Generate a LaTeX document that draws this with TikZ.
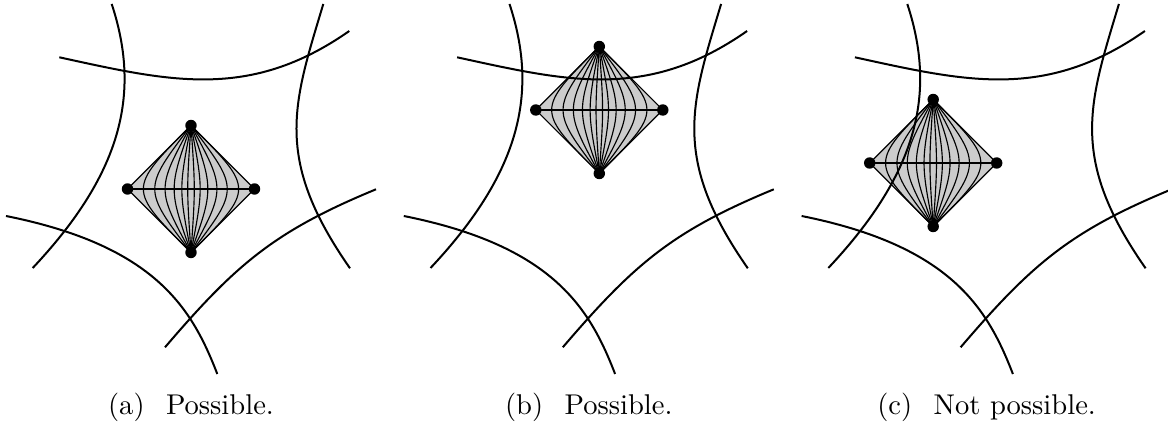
\documentclass[tikz,border=0pt]{standalone}
\begin{document}
\begin{tikzpicture}[x=0.35pt,y=-0.35pt,
  curve/.style={line width=0.7pt},
  meridian/.style={line width=0.4pt},
  outline/.style={line width=0.4pt},
  equator/.style={line width=0.7pt},
  dotfill/.style={fill=black}]
\useasboundingbox (0,0) rectangle (1168,428);
\foreach \ox/\dx/\dy/\lab/\txt in {0/191/189/a/Possible., 397.8/599.3/110/b/Possible., 795.6/933.2/163/c/Not possible.}{
  \coordinate (T\lab) at (\dx,\dy-63.5);
  \coordinate (B\lab) at (\dx,\dy+63.5);
  \coordinate (L\lab) at (\dx-63.5,\dy);
  \coordinate (R\lab) at (\dx+63.5,\dy);
  \fill[black!20] (T\lab) -- (R\lab) -- (B\lab) -- (L\lab) -- cycle;
  \begin{scope}[shift={(\ox,0)}]
    \draw[curve] (111.7,4) .. controls (140,90) and (125,170) .. (32.7,268);
    \draw[curve] (59.3,57.3) .. controls (169.3,81.3) and (249.3,101) .. (349.3,31);
    \draw[curve] (323.3,4) .. controls (293.3,104) and (273,158) .. (350,268.3);
    \draw[curve] (165,347.3) .. controls (236.5,263.7) and (274.8,231.1) .. (376,189.3);
    \draw[curve] (6,216) .. controls (156,246) and (192.1,308.9) .. (217.3,374);
    \node[anchor=base] (cap\lab) at (191,415) {(\lab)\hspace{0.75em}\txt};
  \end{scope}
  \foreach \k in {1,...,6}{
    \pgfmathsetmacro\cc{63.5*(\k/6)^1.5}
    \draw[meridian] (T\lab) .. controls (\dx+\cc,\dy) and (\dx+\cc,\dy) .. (B\lab);
    \draw[meridian] (T\lab) .. controls (\dx-\cc,\dy) and (\dx-\cc,\dy) .. (B\lab);
  }
  \draw[outline] (T\lab) -- (R\lab) -- (B\lab) -- (L\lab) -- cycle;
  \draw[equator] (L\lab) -- (R\lab);
  \foreach \v in {T,B,L,R}{
    \fill[dotfill] (\v\lab) circle (2pt);
  }
}
\end{tikzpicture}
\end{document}
